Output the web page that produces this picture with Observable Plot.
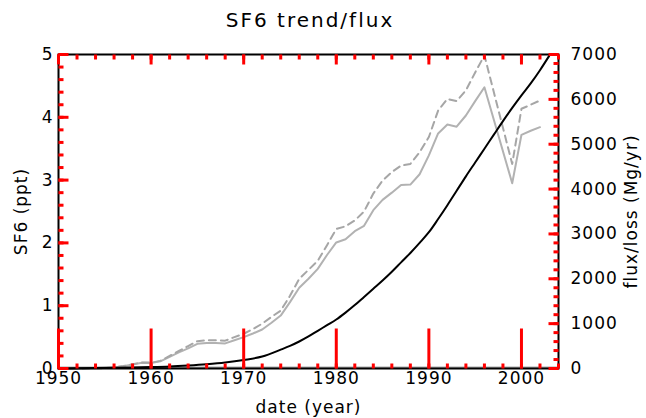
<!DOCTYPE html>
<html><head><meta charset="utf-8">
<script src="https://cdn.jsdelivr.net/npm/d3@7"></script>
<script src="https://cdn.jsdelivr.net/npm/@observablehq/plot@0.6"></script>
<style>
body{margin:0;background:#fff;}
#title{width:646px;height:36px;position:relative;font-family:"DejaVu Sans",sans-serif;font-size:20px;letter-spacing:2px;color:#000;}
#title span{position:absolute;left:310px;top:8px;transform:translateX(-50%);white-space:nowrap;}
#chart svg{display:block;}
</style></head><body>
<div id="title"><span>SF6 trend/flux</span></div>
<div id="chart"></div>
<script>
// SF6 trend (ppt, left axis)
const trendYears = [1950,1952,1954,1956,1958,1960,1962,1964,1966,1968,1970,1972,1974,1975,1976,1977,1978,1979,1980,1981,1982,1983,1984,1985,1986,1987,1988,1989,1990,1991,1992,1993,1994,1995,1996,1997,1998,1999,2000,2001,2002,2003];
const trendPpt   = [0,0.003,0.006,0.01,0.015,0.022,0.032,0.048,0.068,0.095,0.135,0.19,0.30,0.36,0.43,0.51,0.60,0.69,0.78,0.89,1.01,1.14,1.27,1.40,1.54,1.69,1.84,2.00,2.17,2.38,2.60,2.83,3.06,3.28,3.50,3.72,3.94,4.15,4.35,4.54,4.75,4.98];

// flux (Mg/yr, right axis)
const fluxYears  = [1950,1952,1954,1955,1956,1957,1958,1959,1960,1961,1962,1963,1964,1965,1966,1967,1968,1969,1970,1971,1972,1973,1974,1975,1976,1977,1978,1979,1980,1981,1982,1983,1984,1985,1986,1987,1988,1989,1990,1991,1992,1993,1994,1995,1996,1999,2000,2001,2002];
const fluxSolid  = [0,0,5,10,20,50,90,130,120,160,260,360,450,550,570,570,560,630,700,780,870,1020,1180,1480,1800,2000,2220,2530,2810,2880,3060,3180,3530,3760,3920,4090,4100,4330,4750,5240,5440,5390,5640,5960,6270,4130,5210,5300,5380];
const fluxDashed = [0,0,5,10,22,55,95,135,130,170,280,390,500,610,630,630,620,700,775,880,1000,1150,1290,1620,2000,2200,2400,2750,3110,3170,3300,3500,3900,4190,4380,4525,4560,4820,5160,5750,6010,5960,6200,6600,6980,4560,5790,5880,5975];

// loss (Mg/yr), near zero
const lossYears  = [1950, 2004];
const lossValues = [20, 20];

const xTicks      = [1950,1960,1970,1980,1990,2000];
const xMinorTicks = d3.range(1950, 2005, 2);
const leftTicks   = [0,1,2,3,4,5];
const leftMinor   = d3.range(0, 26).map(i => i / 5);
const rightTicks  = [0,1000,2000,3000,4000,5000,6000,7000];
const rightMinor  = d3.range(0, 36).map(i => i * 200);

const xMin = 1950, xMax = 2004;
const pptMax = 5, fluxMax = 7000;
const f2p = f => f * pptMax / fluxMax;

const trend = trendYears.map((y, i) => ({year: y, v: trendPpt[i]}));
const flux = fluxYears.map((y, i) => ({year: y, solid: fluxSolid[i], dashed: fluxDashed[i]}));
const loss = lossYears.map((y, i) => ({year: y, v: lossValues[i]}));

const W = 646, H = 382, mL = 58, mR = 88, mT = 18, mB = 50;
const fw = W - mL - mR, fh = H - mT - mB;
const majorPx = 10, minorPx = 5;
const yu = px => px * pptMax / fh;
const xu = px => px * (xMax - xMin) / fw;
const fs = 17;
const tk = {stroke: "red", strokeWidth: 3};

const chart = Plot.plot({
  width: W,
  height: H,
  marginLeft: mL,
  marginRight: mR,
  marginTop: mT,
  marginBottom: mB,
  style: {fontFamily: "DejaVu Sans", fontSize: fs + "px"},
  x: {domain: [xMin, xMax]},
  y: {domain: [0, pptMax]},
  marks: [
    Plot.line(loss, {x: "year", y: d => f2p(d.v), stroke: "#aaaaaa", strokeWidth: 2}),
    Plot.line(flux, {x: "year", y: d => f2p(d.solid), stroke: "#b2b2b2", strokeWidth: 2}),
    Plot.line(flux, {x: "year", y: d => f2p(d.dashed), stroke: "#a6a6a6", strokeWidth: 2, strokeDasharray: "7,5"}),
    Plot.line(trend, {x: "year", y: "v", stroke: "#000", strokeWidth: 2, curve: "monotone-x"}),
    Plot.frame({stroke: "#000", strokeWidth: 2}),
    Plot.link(xTicks, {x1: d => d, x2: d => d, y1: 0, y2: yu(40), ...tk}),
    Plot.link(xMinorTicks, {x1: d => d, x2: d => d, y1: 0, y2: yu(minorPx), ...tk}),
    Plot.link(xTicks, {x1: d => d, x2: d => d, y1: pptMax, y2: pptMax - yu(majorPx), ...tk}),
    Plot.link(xMinorTicks, {x1: d => d, x2: d => d, y1: pptMax, y2: pptMax - yu(minorPx), ...tk}),
    Plot.link(leftTicks, {x1: xMin, x2: xMin + xu(majorPx), y1: d => d, y2: d => d, ...tk}),
    Plot.link(leftMinor, {x1: xMin, x2: xMin + xu(minorPx), y1: d => d, y2: d => d, ...tk}),
    Plot.link(rightTicks, {x1: xMax, x2: xMax - xu(majorPx), y1: d => f2p(d), y2: d => f2p(d), ...tk}),
    Plot.link(rightMinor, {x1: xMax, x2: xMax - xu(minorPx), y1: d => f2p(d), y2: d => f2p(d), ...tk}),
    Plot.axisX({anchor: "bottom", ticks: xTicks, tickSize: 0, tickPadding: 3, tickFormat: d => String(d), fontSize: fs, label: "date (year)", labelAnchor: "center", labelArrow: "none", labelOffset: 44}),
    Plot.axisY({anchor: "left", ticks: leftTicks, tickSize: 0, tickPadding: 5, tickFormat: d => String(d), fontSize: fs, label: "SF6 (ppt)", labelAnchor: "center", labelArrow: "none", labelOffset: 44}),
    Plot.axisY({anchor: "right", ticks: rightTicks.map(f2p), tickSize: 0, tickPadding: 12, tickFormat: d => String(Math.round(d * fluxMax / pptMax)), fontSize: fs, label: "flux/loss (Mg/yr)", labelAnchor: "center", labelArrow: "none", labelOffset: 78})
  ]
});
chart.style.letterSpacing = "1px";
document.getElementById("chart").appendChild(chart);
</script>
</body></html>
